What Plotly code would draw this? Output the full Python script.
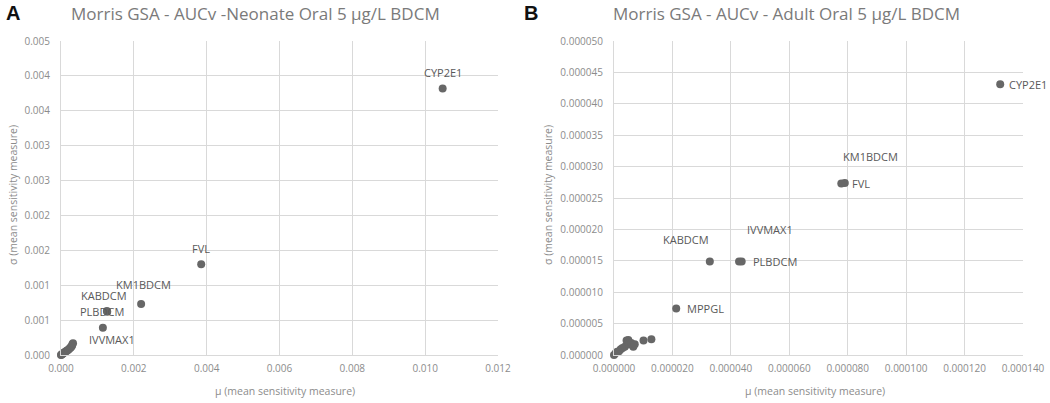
import plotly.graph_objects as go

# ---------------- Data ----------------
# Panel A: Neonate
a_labels = ["CYP2E1", "FVL", "KM1BDCM", "KABDCM", "PLBDCM", "IVVMAX1"]
a_mu = [0.01048, 0.00385, 0.00220, 0.00126, 0.00127, 0.00115]
a_sigma = [0.00382, 0.00130, 0.00073, 0.00063, 0.00062, 0.00039]
a_cluster_mu = [0.00000, 0.00001, 0.00003, 0.00005, 0.00007, 0.00009, 0.00012, 0.00014,
                0.00016, 0.00019, 0.00021, 0.00024, 0.00026, 0.00028, 0.00030, 0.00031, 0.00033]
a_cluster_sigma = [0.000000, 0.000005, 0.000012, 0.000020, 0.000028, 0.000035, 0.000045, 0.000055,
                   0.000060, 0.000072, 0.000080, 0.000095, 0.000105, 0.000120, 0.000130, 0.000150, 0.000170]

# Panel B: Adult
b_labels = ["CYP2E1", "KM1BDCM", "FVL", "IVVMAX1", "PLBDCM", "KABDCM", "MPPGL"]
b_mu = [0.0001322, 0.0000790, 0.0000778, 0.0000437, 0.0000428, 0.0000328, 0.0000213]
b_sigma = [0.0000431, 0.0000274, 0.0000273, 0.0000149, 0.0000149, 0.0000149, 0.0000074]
b_cluster_mu = [0.0, 0.0000006, 0.0000011, 0.0000017, 0.0000023, 0.0000029, 0.0000037, 0.0000043,
                0.0000049, 0.0000051, 0.0000059, 0.0000066, 0.0000071, 0.0000101, 0.0000128]
b_cluster_sigma = [0.0, 0.0000003, 0.0000005, 0.0000006, 0.0000009, 0.0000011, 0.0000013, 0.0000023,
                   0.0000024, 0.0000017, 0.0000019, 0.0000013, 0.0000017, 0.0000023, 0.0000025]

# Axis ticks
a_x_ticks = [0.000, 0.002, 0.004, 0.006, 0.008, 0.010, 0.012]
a_y_ticks = [0.0, 0.0005, 0.001, 0.0015, 0.002, 0.0025, 0.003, 0.0035, 0.004, 0.0045]
a_y_ticktext = ["0.000", "0.001", "0.001", "0.002", "0.002", "0.003", "0.003", "0.004", "0.004", "0.005"]
b_x_ticks = [0.0, 0.00002, 0.00004, 0.00006, 0.00008, 0.00010, 0.00012, 0.00014]
b_y_ticks = [0.0, 0.000005, 0.00001, 0.000015, 0.00002, 0.000025, 0.00003, 0.000035, 0.00004, 0.000045, 0.00005]

title_a = "Morris GSA - AUCv -Neonate Oral 5 µg/L BDCM"
title_b = "Morris GSA - AUCv - Adult Oral 5 µg/L BDCM"
x_title = "µ (mean sensitivity measure)"
y_title = "σ (mean sensitivity measure)"

# label placement styles: (xanchor, yanchor, xshift, yshift)
a_label_pos = [("center", "bottom", 0, 6), ("center", "bottom", 0, 6), ("center", "bottom", 2, 10),
               ("center", "bottom", -3, 6), ("center", "middle", -5, 0), ("center", "top", 9, -2)]
b_label_pos = [("left", "middle", 7, 0), ("left", "bottom", -4, 17), ("left", "middle", 9, 0),
               ("left", "bottom", 3, 22), ("left", "middle", 12, 0), ("right", "bottom", 1, 12),
               ("left", "middle", 9, 0)]

# ---------------- Figure ----------------
W, H = 1050, 403
MARK = "#676767"
GRID = "#d9d9d9"
TICK = "#8c8c8c"
FONT = "Open Sans"

fig = go.Figure()
for xs, ys, xa, ya in [(a_cluster_mu + a_mu, a_cluster_sigma + a_sigma, "x", "y"),
                       (b_cluster_mu + b_mu, b_cluster_sigma + b_sigma, "x2", "y2")]:
    fig.add_trace(go.Scatter(x=xs, y=ys, mode="markers", xaxis=xa, yaxis=ya,
                             marker=dict(color=MARK, size=8, line=dict(width=0)),
                             showlegend=False, hoverinfo="x+y", cliponaxis=False))

annotations = []
for labels, mus, sigs, pos, xr, yr in [(a_labels, a_mu, a_sigma, a_label_pos, "x", "y"),
                                       (b_labels, b_mu, b_sigma, b_label_pos, "x2", "y2")]:
    for t, m, s, (xan, yan, dx, dy) in zip(labels, mus, sigs, pos):
        annotations.append(dict(x=m, y=s, xref=xr, yref=yr, text=t, showarrow=False,
                                xanchor=xan, yanchor=yan, xshift=dx, yshift=dy,
                                font=dict(family=FONT, size=11, color="#595959")))

def px_x(p):
    return p / W

def px_y(p):
    return 1 - p / H

for txt, cx in [(title_a, 255), (title_b, 786)]:
    annotations.append(dict(x=px_x(cx), y=px_y(14), xref="paper", yref="paper", text=txt,
                            showarrow=False, xanchor="center", yanchor="middle",
                            font=dict(family=FONT, size=17, color="#7a7a7a")))
for txt, cx in [("A", 13), ("B", 531)]:
    annotations.append(dict(x=px_x(cx), y=px_y(13), xref="paper", yref="paper", text="<b>%s</b>" % txt,
                            showarrow=False, xanchor="center", yanchor="middle",
                            font=dict(family="Liberation Sans", size=20, color="#111111")))
for cx in [285, 815]:
    annotations.append(dict(x=px_x(cx), y=px_y(391), xref="paper", yref="paper", text=x_title,
                            showarrow=False, xanchor="center", yanchor="middle",
                            font=dict(family=FONT, size=10.5, color=TICK)))
for cx in [13, 548]:
    annotations.append(dict(x=px_x(cx), y=px_y(195), xref="paper", yref="paper", text=y_title,
                            showarrow=False, xanchor="center", yanchor="middle", textangle=-90,
                            font=dict(family=FONT, size=10.5, color=TICK)))

axis_common = dict(showgrid=True, gridcolor=GRID, gridwidth=1, zeroline=False,
                   showline=True, linecolor=GRID, linewidth=1, mirror=False, ticks="",
                   tickfont=dict(family=FONT, size=10, color=TICK), fixedrange=True,
                   automargin=False)

fig.update_layout(
    width=W, height=H, margin=dict(l=0, r=0, t=0, b=0, autoexpand=False),
    paper_bgcolor="white", plot_bgcolor="white",
    annotations=annotations,
    xaxis=dict(domain=[px_x(61), px_x(498)], range=[0, 0.012], tickvals=a_x_ticks,
               tickformat=".3f", anchor="y", ticklabelstandoff=4, **axis_common),
    yaxis=dict(domain=[px_y(355), px_y(41)], range=[0, 0.0045], tickvals=a_y_ticks,
               ticktext=a_y_ticktext, anchor="x", ticklabelstandoff=8, **axis_common),
    xaxis2=dict(domain=[px_x(614), px_x(1023)], range=[0, 0.00014], tickvals=b_x_ticks,
                tickformat=".6f", anchor="y2", ticklabelstandoff=4, **axis_common),
    yaxis2=dict(domain=[px_y(355), px_y(41)], range=[0, 0.00005], tickvals=b_y_ticks,
                tickformat=".6f", anchor="x2", ticklabelstandoff=8, **axis_common),
)

fig.write_html("out.html", config={"displayModeBar": False},
               post_script="document.body.style.margin='0';document.body.style.overflow='hidden';")
